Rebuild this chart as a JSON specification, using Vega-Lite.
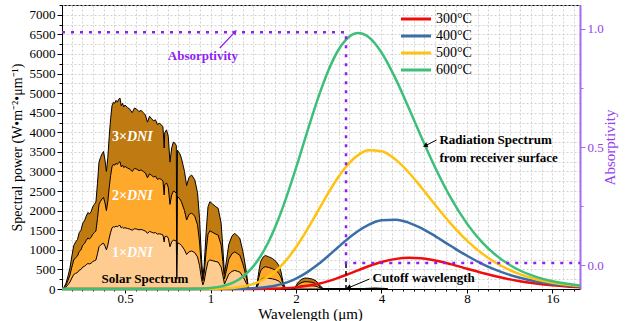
{
  "$schema": "https://vega.github.io/schema/vega-lite/v6.json",
  "width": 518,
  "height": 284,
  "autosize": {"type": "none"},
  "padding": {"left": 62, "top": 5, "right": 51, "bottom": 32},
  "background": "white",
  "config": {
    "view": {"stroke": "black", "strokeWidth": 1},
    "font": "Liberation Serif",
    "axis": {
      "labelFont": "Liberation Serif", "titleFont": "Liberation Serif",
      "labelFontSize": 13, "titleFontSize": 15, "titleFontWeight": "normal",
      "labelColor": "black", "titleColor": "black", "domainColor": "black", "tickColor": "black",
      "labelOverlap": false, "labelBound": false, "labelFlush": false
    }
  },
  "datasets": {
    "solar": [
      {"wl":0.300,"s1":0,"s2":0,"s3":0},
      {"wl":0.305,"s1":15,"s2":30,"s3":45},
      {"wl":0.310,"s1":50,"s2":100,"s3":150},
      {"wl":0.315,"s1":110,"s2":220,"s3":330},
      {"wl":0.320,"s1":180,"s2":360,"s3":540},
      {"wl":0.325,"s1":280,"s2":560,"s3":840},
      {"wl":0.330,"s1":370,"s2":740,"s3":1110},
      {"wl":0.335,"s1":400,"s2":800,"s3":1200},
      {"wl":0.340,"s1":420,"s2":840,"s3":1260},
      {"wl":0.345,"s1":480,"s2":960,"s3":1440},
      {"wl":0.350,"s1":500,"s2":1000,"s3":1500},
      {"wl":0.355,"s1":560,"s2":1120,"s3":1680},
      {"wl":0.360,"s1":580,"s2":1160,"s3":1740},
      {"wl":0.365,"s1":620,"s2":1240,"s3":1860},
      {"wl":0.370,"s1":650,"s2":1300,"s3":1950},
      {"wl":0.375,"s1":640,"s2":1280,"s3":1920},
      {"wl":0.380,"s1":660,"s2":1320,"s3":1980},
      {"wl":0.385,"s1":700,"s2":1400,"s3":2100},
      {"wl":0.390,"s1":720,"s2":1440,"s3":2160},
      {"wl":0.395,"s1":740,"s2":1480,"s3":2220},
      {"wl":0.400,"s1":900,"s2":1800,"s3":2700},
      {"wl":0.405,"s1":1080,"s2":2160,"s3":3240},
      {"wl":0.410,"s1":1120,"s2":2240,"s3":3360},
      {"wl":0.415,"s1":1150,"s2":2300,"s3":3450},
      {"wl":0.420,"s1":1170,"s2":2340,"s3":3510},
      {"wl":0.425,"s1":1100,"s2":2200,"s3":3300},
      {"wl":0.430,"s1":1000,"s2":2000,"s3":3000},
      {"wl":0.435,"s1":1120,"s2":2240,"s3":3360},
      {"wl":0.440,"s1":1300,"s2":2600,"s3":3900},
      {"wl":0.445,"s1":1450,"s2":2900,"s3":4350},
      {"wl":0.450,"s1":1560,"s2":3120,"s3":4680},
      {"wl":0.455,"s1":1590,"s2":3180,"s3":4770},
      {"wl":0.460,"s1":1580,"s2":3160,"s3":4740},
      {"wl":0.465,"s1":1605,"s2":3210,"s3":4815},
      {"wl":0.470,"s1":1590,"s2":3180,"s3":4770},
      {"wl":0.475,"s1":1615,"s2":3230,"s3":4845},
      {"wl":0.480,"s1":1625,"s2":3250,"s3":4875},
      {"wl":0.485,"s1":1560,"s2":3120,"s3":4680},
      {"wl":0.490,"s1":1580,"s2":3160,"s3":4740},
      {"wl":0.495,"s1":1550,"s2":3100,"s3":4650},
      {"wl":0.500,"s1":1565,"s2":3130,"s3":4695},
      {"wl":0.510,"s1":1545,"s2":3090,"s3":4635},
      {"wl":0.520,"s1":1530,"s2":3060,"s3":4590},
      {"wl":0.530,"s1":1500,"s2":3000,"s3":4500},
      {"wl":0.540,"s1":1540,"s2":3080,"s3":4620},
      {"wl":0.550,"s1":1530,"s2":3060,"s3":4590},
      {"wl":0.560,"s1":1510,"s2":3020,"s3":4530},
      {"wl":0.570,"s1":1520,"s2":3040,"s3":4560},
      {"wl":0.580,"s1":1500,"s2":3000,"s3":4500},
      {"wl":0.590,"s1":1480,"s2":2960,"s3":4440},
      {"wl":0.600,"s1":1420,"s2":2840,"s3":4260},
      {"wl":0.610,"s1":1470,"s2":2940,"s3":4410},
      {"wl":0.620,"s1":1450,"s2":2900,"s3":4350},
      {"wl":0.630,"s1":1430,"s2":2860,"s3":4290},
      {"wl":0.640,"s1":1440,"s2":2880,"s3":4320},
      {"wl":0.650,"s1":1400,"s2":2800,"s3":4200},
      {"wl":0.660,"s1":1410,"s2":2820,"s3":4230},
      {"wl":0.670,"s1":1400,"s2":2800,"s3":4200},
      {"wl":0.680,"s1":1380,"s2":2760,"s3":4140},
      {"wl":0.687,"s1":1200,"s2":2400,"s3":3600},
      {"wl":0.690,"s1":1330,"s2":2660,"s3":3990},
      {"wl":0.700,"s1":1354,"s2":2708,"s3":4062},
      {"wl":0.710,"s1":1300,"s2":2600,"s3":3900},
      {"wl":0.720,"s1":1080,"s2":2160,"s3":3240},
      {"wl":0.730,"s1":1200,"s2":2400,"s3":3600},
      {"wl":0.740,"s1":1250,"s2":2500,"s3":3750},
      {"wl":0.750,"s1":1240,"s2":2480,"s3":3720},
      {"wl":0.758,"s1":1220,"s2":2440,"s3":3660},
      {"wl":0.761,"s1":250,"s2":500,"s3":750},
      {"wl":0.765,"s1":1180,"s2":2360,"s3":3540},
      {"wl":0.780,"s1":1150,"s2":2300,"s3":3450},
      {"wl":0.790,"s1":1113,"s2":2226,"s3":3339},
      {"wl":0.810,"s1":1000,"s2":2000,"s3":3000},
      {"wl":0.824,"s1":880,"s2":1760,"s3":2640},
      {"wl":0.840,"s1":950,"s2":1900,"s3":2850},
      {"wl":0.858,"s1":970,"s2":1940,"s3":2910},
      {"wl":0.880,"s1":930,"s2":1860,"s3":2790},
      {"wl":0.900,"s1":820,"s2":1640,"s3":2460},
      {"wl":0.915,"s1":600,"s2":1200,"s3":1800},
      {"wl":0.930,"s1":250,"s2":500,"s3":750},
      {"wl":0.940,"s1":105,"s2":210,"s3":315},
      {"wl":0.950,"s1":200,"s2":400,"s3":600},
      {"wl":0.965,"s1":480,"s2":960,"s3":1440},
      {"wl":0.980,"s1":700,"s2":1400,"s3":2100},
      {"wl":0.995,"s1":743,"s2":1486,"s3":2229},
      {"wl":1.020,"s1":720,"s2":1440,"s3":2160},
      {"wl":1.045,"s1":700,"s2":1400,"s3":2100},
      {"wl":1.064,"s1":687,"s2":1374,"s3":2061},
      {"wl":1.090,"s1":560,"s2":1120,"s3":1680},
      {"wl":1.105,"s1":350,"s2":700,"s3":1050},
      {"wl":1.120,"s1":130,"s2":260,"s3":390},
      {"wl":1.135,"s1":220,"s2":440,"s3":660},
      {"wl":1.160,"s1":380,"s2":760,"s3":1140},
      {"wl":1.190,"s1":450,"s2":900,"s3":1350},
      {"wl":1.218,"s1":474,"s2":948,"s3":1422},
      {"wl":1.245,"s1":450,"s2":900,"s3":1350},
      {"wl":1.268,"s1":432,"s2":864,"s3":1296},
      {"wl":1.300,"s1":320,"s2":640,"s3":960},
      {"wl":1.320,"s1":230,"s2":460,"s3":690},
      {"wl":1.339,"s1":134,"s2":268,"s3":402},
      {"wl":1.360,"s1":10,"s2":20,"s3":30},
      {"wl":1.380,"s1":0,"s2":0,"s3":0},
      {"wl":1.440,"s1":0,"s2":0,"s3":0},
      {"wl":1.460,"s1":50,"s2":100,"s3":150},
      {"wl":1.480,"s1":150,"s2":300,"s3":450},
      {"wl":1.500,"s1":230,"s2":460,"s3":690},
      {"wl":1.530,"s1":270,"s2":540,"s3":810},
      {"wl":1.560,"s1":285,"s2":570,"s3":855},
      {"wl":1.600,"s1":275,"s2":550,"s3":825},
      {"wl":1.650,"s1":260,"s2":520,"s3":780},
      {"wl":1.700,"s1":235,"s2":470,"s3":705},
      {"wl":1.740,"s1":200,"s2":400,"s3":600},
      {"wl":1.770,"s1":150,"s2":300,"s3":450},
      {"wl":1.800,"s1":60,"s2":120,"s3":180},
      {"wl":1.830,"s1":10,"s2":20,"s3":30},
      {"wl":1.850,"s1":0,"s2":0,"s3":0},
      {"wl":1.960,"s1":0,"s2":0,"s3":0},
      {"wl":1.990,"s1":20,"s2":40,"s3":60},
      {"wl":2.040,"s1":60,"s2":120,"s3":180},
      {"wl":2.100,"s1":85,"s2":170,"s3":255},
      {"wl":2.150,"s1":93,"s2":186,"s3":279},
      {"wl":2.200,"s1":92,"s2":184,"s3":276},
      {"wl":2.280,"s1":85,"s2":170,"s3":255},
      {"wl":2.350,"s1":70,"s2":140,"s3":210},
      {"wl":2.400,"s1":45,"s2":90,"s3":135},
      {"wl":2.450,"s1":20,"s2":40,"s3":60},
      {"wl":2.500,"s1":0,"s2":0,"s3":0},
      {"wl":3.400,"s1":0,"s2":0,"s3":0},
      {"wl":3.500,"s1":5,"s2":10,"s3":15},
      {"wl":3.800,"s1":8,"s2":16,"s3":24},
      {"wl":4.100,"s1":5,"s2":10,"s3":15},
      {"wl":4.200,"s1":0,"s2":0,"s3":0}
    ],
    "bb": [
      {"T":"300°C","wl":0.3,"v":0},{"T":"300°C","wl":1.0,"v":0},{"T":"300°C","wl":1.4,"v":1.1},{"T":"300°C","wl":1.6,"v":5.5},{"T":"300°C","wl":1.8,"v":17.4},{"T":"300°C","wl":2.0,"v":41.4},{"T":"300°C","wl":2.2,"v":80.5},{"T":"300°C","wl":2.4,"v":134.8},{"T":"300°C","wl":2.6,"v":201.9},{"T":"300°C","wl":2.8,"v":277.8},{"T":"300°C","wl":3.0,"v":357.7},{"T":"300°C","wl":3.3,"v":475.4},{"T":"300°C","wl":3.6,"v":580.3},{"T":"300°C","wl":4.0,"v":688.7},{"T":"300°C","wl":4.5,"v":769.1},{"T":"300°C","wl":5.0,"v":795.6},{"T":"300°C","wl":5.5,"v":782.8},{"T":"300°C","wl":6.0,"v":744.7},{"T":"300°C","wl":7.0,"v":634.4},{"T":"300°C","wl":8.0,"v":517.7},{"T":"300°C","wl":9.0,"v":415.0},{"T":"300°C","wl":10,"v":330.9},{"T":"300°C","wl":12,"v":211.8},{"T":"300°C","wl":14,"v":138.9},{"T":"300°C","wl":16,"v":93.9},{"T":"300°C","wl":18,"v":65.3},{"T":"300°C","wl":20,"v":46.6},
      {"T":"400°C","wl":0.3,"v":0},{"T":"400°C","wl":1.0,"v":0.2},{"T":"400°C","wl":1.2,"v":2.8},{"T":"400°C","wl":1.3,"v":7.3},{"T":"400°C","wl":1.4,"v":16.3},{"T":"400°C","wl":1.5,"v":31.9},{"T":"400°C","wl":1.6,"v":56.3},{"T":"400°C","wl":1.7,"v":91.3},{"T":"400°C","wl":1.8,"v":138.0},{"T":"400°C","wl":1.9,"v":196.8},{"T":"400°C","wl":2.0,"v":267.1},{"T":"400°C","wl":2.2,"v":438.1},{"T":"400°C","wl":2.4,"v":637.2},{"T":"400°C","wl":2.6,"v":847.4},{"T":"400°C","wl":2.8,"v":1052.7},{"T":"400°C","wl":3.0,"v":1240.6},{"T":"400°C","wl":3.3,"v":1473.1},{"T":"400°C","wl":3.6,"v":1637.7},{"T":"400°C","wl":4.0,"v":1754.7},{"T":"400°C","wl":4.5,"v":1769.9},{"T":"400°C","wl":5.0,"v":1689.6},{"T":"400°C","wl":5.5,"v":1557.8},{"T":"400°C","wl":6.0,"v":1405.2},{"T":"400°C","wl":7.0,"v":1102.8},{"T":"400°C","wl":8.0,"v":848.0},{"T":"400°C","wl":9.0,"v":649.9},{"T":"400°C","wl":10,"v":500.4},{"T":"400°C","wl":12,"v":304.6},{"T":"400°C","wl":14,"v":193.1},{"T":"400°C","wl":16,"v":127.3},{"T":"400°C","wl":18,"v":86.9},{"T":"400°C","wl":20,"v":61.2},
      {"T":"500°C","wl":0.3,"v":0},{"T":"500°C","wl":0.8,"v":0.1},{"T":"500°C","wl":1.0,"v":3.1},{"T":"500°C","wl":1.1,"v":10.4},{"T":"500°C","wl":1.2,"v":27.7},{"T":"500°C","wl":1.3,"v":61.2},{"T":"500°C","wl":1.4,"v":117.3},{"T":"500°C","wl":1.5,"v":201.5},{"T":"500°C","wl":1.6,"v":317.1},{"T":"500°C","wl":1.7,"v":464.1},{"T":"500°C","wl":1.8,"v":640.6},{"T":"500°C","wl":2.0,"v":1063.8},{"T":"500°C","wl":2.2,"v":1539.4},{"T":"500°C","wl":2.4,"v":2016.9},{"T":"500°C","wl":2.6,"v":2454.1},{"T":"500°C","wl":2.8,"v":2828.6},{"T":"500°C","wl":3.0,"v":3121.1},{"T":"500°C","wl":3.3,"v":3411.3},{"T":"500°C","wl":3.6,"v":3540.0},{"T":"500°C","wl":4.0,"v":3518.6},{"T":"500°C","wl":4.5,"v":3295.7},{"T":"500°C","wl":5.0,"v":2967.8},{"T":"500°C","wl":5.5,"v":2610.8},{"T":"500°C","wl":6.0,"v":2265.9},{"T":"500°C","wl":7.0,"v":1677.0},{"T":"500°C","wl":8.0,"v":1235.8},{"T":"500°C","wl":9.0,"v":917.3},{"T":"500°C","wl":10,"v":689.1},{"T":"500°C","wl":12,"v":404.8},{"T":"500°C","wl":14,"v":250.4},{"T":"500°C","wl":16,"v":162.2},{"T":"500°C","wl":18,"v":109.3},{"T":"500°C","wl":20,"v":76.1},
      {"T":"600°C","wl":0.3,"v":0},{"T":"600°C","wl":0.8,"v":1.3},{"T":"600°C","wl":0.9,"v":7.1},{"T":"600°C","wl":1.0,"v":26.1},{"T":"600°C","wl":1.1,"v":72.5},{"T":"600°C","wl":1.2,"v":163.5},{"T":"600°C","wl":1.3,"v":315.3},{"T":"600°C","wl":1.4,"v":538.0},{"T":"600°C","wl":1.5,"v":835.4},{"T":"600°C","wl":1.6,"v":1201.4},{"T":"600°C","wl":1.7,"v":1626.5},{"T":"600°C","wl":1.8,"v":2095.2},{"T":"600°C","wl":2.0,"v":3089.5},{"T":"600°C","wl":2.2,"v":4058.4},{"T":"600°C","wl":2.4,"v":4904.7},{"T":"600°C","wl":2.6,"v":5577.6},{"T":"600°C","wl":2.8,"v":6063.0},{"T":"600°C","wl":3.0,"v":6363.5},{"T":"600°C","wl":3.3,"v":6532.2},{"T":"600°C","wl":3.6,"v":6431.3},{"T":"600°C","wl":4.0,"v":6037.1},{"T":"600°C","wl":4.5,"v":5345.7},{"T":"600°C","wl":5.0,"v":4606.5},{"T":"600°C","wl":5.5,"v":3912.0},{"T":"600°C","wl":6.0,"v":3299.0},{"T":"600°C","wl":7.0,"v":2336.6},{"T":"600°C","wl":8.0,"v":1668.5},{"T":"600°C","wl":9.0,"v":1209.4},{"T":"600°C","wl":10,"v":891.8},{"T":"600°C","wl":12,"v":510.1},{"T":"600°C","wl":14,"v":310.0},{"T":"600°C","wl":16,"v":198.2},{"T":"600°C","wl":18,"v":132.2},{"T":"600°C","wl":20,"v":91.4}
    ],
    "absorb": [
      {"i":1,"wl":0.3,"a":0.985},
      {"i":2,"wl":3.0,"a":0.985},
      {"i":3,"wl":3.0,"a":0.01},
      {"i":4,"wl":20,"a":0.01}
    ],
    "mult": [
      {"wl":0.508,"v":3888,"t":"3×"},
      {"wl":0.508,"v":2374,"t":"2×"},
      {"wl":0.508,"v":927,"t":"1×"}
    ],
    "dni": [
      {"wl":0.508,"v":3888,"t":"DNI"},
      {"wl":0.508,"v":2374,"t":"DNI"},
      {"wl":0.508,"v":927,"t":"DNI"}
    ],
    "notesLeft": [
      {"wl":6.40,"v":3804,"t":"Radiation Spectrum"},
      {"wl":6.40,"v":3344,"t":"from receiver surface"},
      {"wl":3.72,"v":273,"t":"Cutoff wavelength"}
    ],
    "notesCenter": [
      {"wl":0.588,"v":248,"t":"Solar Spectrum"}
    ],
    "notePurple": [
      {"wl":0.94,"v":5956,"t":"Absorptivity"}
    ],
    "arrowsBlack": [
      {"wl":6.25,"v":3804,"wl2":5.72,"v2":3660},
      {"wl":3.63,"v":255,"wl2":3.07,"v2":35}
    ],
    "arrowPurple": [
      {"wl":1.078,"v":6152,"wl2":1.215,"v2":6550}
    ],
    "headRad": [{"wl":5.70,"v":3655}],
    "headCut": [{"wl":3.06,"v":32}],
    "headAbs": [{"wl":1.22,"v":6565}],
    "cutoff": [{"wl":3.0,"v":0,"v2":660}]
  },
  "encoding": {
    "x": {
      "field": "wl", "type": "quantitative",
      "scale": {"type": "log", "domain": [0.3, 20]},
      "title": "Wavelength (μm)",
      "axis": {
        "values": [0.32421,0.35355,0.38555,0.42045,0.4585,0.5,0.54525,0.5946,0.64842,0.70711,0.77111,0.8409,0.917,1,1.09051,1.18921,1.29684,1.41421,1.54221,1.68179,1.83401,2,2.18102,2.37841,2.59368,2.82843,3.08442,3.36359,3.66802,4,4.36203,4.75683,5.18736,5.65685,6.16884,6.72717,7.33603,8,8.72406,9.51366,10.37472,11.31371,12.33768,13.45434,14.67206,16,17.44812,19.02731],
        "labelExpr": "indexof([0.5,1,2,4,8,16], datum.value) >= 0 ? '' + datum.value : ''",
        "grid": true, "gridColor": "#c8c8c8", "gridDash": [2, 2], "gridWidth": 0.8,
        "tickSize": {"condition": {"test": "indexof([0.5,1,2,4,8,16], datum.value) >= 0", "value": 4}, "value": 2},
        "labelPadding": -1,
        "titleX": 248, "titleY": 29, "titleBaseline": "alphabetic", "titleAlign": "center"
      }
    }
  },
  "layer": [
    {
      "encoding": {
        "y": {
          "field": "v", "type": "quantitative",
          "scale": {"domain": [0, 7250]},
          "title": "Spectral power (W•m⁻²•μm⁻¹)",
          "axis": {
            "values": [0,250,500,750,1000,1250,1500,1750,2000,2250,2500,2750,3000,3250,3500,3750,4000,4250,4500,4750,5000,5250,5500,5750,6000,6250,6500,6750,7000,7250],
            "labelExpr": "datum.value % 500 === 0 ? '' + datum.value : ''",
            "grid": true, "gridColor": "#c8c8c8", "gridDash": [2, 2], "gridWidth": 0.8,
            "tickSize": {"condition": {"test": "datum.value % 500 === 0", "value": 5}, "value": 3},
            "labelPadding": 2, "titlePadding": 5, "titleFontSize": 14
          }
        }
      },
      "layer": [
        {
          "data": {"name": "solar"},
          "transform": [{"fold": ["s3"], "as": ["k", "v"]}],
          "mark": {"type": "area", "color": "#bf7a12", "stroke": "black", "strokeWidth": 1, "strokeJoin": "round"}
        },
        {
          "data": {"name": "solar"},
          "transform": [{"fold": ["s2"], "as": ["k", "v"]}],
          "mark": {"type": "area", "color": "#fea82c", "stroke": "black", "strokeWidth": 1, "strokeJoin": "round"}
        },
        {
          "data": {"name": "solar"},
          "transform": [{"fold": ["s1"], "as": ["k", "v"]}],
          "mark": {"type": "area", "color": "#fecb90", "stroke": "black", "strokeWidth": 1, "strokeJoin": "round"}
        },
        {
          "data": {"name": "bb"},
          "mark": {"type": "line", "interpolate": "monotone", "strokeWidth": 2.5},
          "encoding": {
            "color": {
              "field": "T", "type": "nominal",
              "scale": {"domain": ["300°C", "400°C", "500°C", "600°C"], "range": ["#f00c0c", "#3b6ea6", "#ffc20e", "#3dbf7a"]},
              "legend": {
                "orient": "none", "legendX": 347, "legendY": 7, "title": null,
                "symbolType": "M-3,0H3", "symbolSize": 100, "symbolStrokeWidth": 3,
                "labelFont": "Liberation Serif", "labelFontSize": 14, "labelColor": "black",
                "rowPadding": 3, "labelOffset": 13, "padding": 0
              }
            }
          }
        },
        {
          "data": {"name": "cutoff"},
          "mark": {"type": "rule", "color": "black", "strokeWidth": 1.5, "strokeDash": [4, 3]},
          "encoding": {"y2": {"field": "v2"}}
        },
        {
          "data": {"name": "arrowsBlack"},
          "mark": {"type": "rule", "color": "black", "strokeWidth": 1},
          "encoding": {"x2": {"field": "wl2"}, "y2": {"field": "v2"}}
        },
        {
          "data": {"name": "arrowPurple"},
          "mark": {"type": "rule", "color": "#8f1ef0", "strokeWidth": 1.2},
          "encoding": {"x2": {"field": "wl2"}, "y2": {"field": "v2"}}
        },
        {
          "data": {"name": "headRad"},
          "mark": {"type": "point", "shape": "triangle-up", "filled": true, "color": "black", "size": 30, "angle": 245, "opacity": 1}
        },
        {
          "data": {"name": "headCut"},
          "mark": {"type": "point", "shape": "triangle-up", "filled": true, "color": "black", "size": 30, "angle": 250, "opacity": 1}
        },
        {
          "data": {"name": "headAbs"},
          "mark": {"type": "point", "shape": "triangle-up", "filled": true, "color": "#8f1ef0", "size": 30, "angle": 43, "opacity": 1}
        },
        {
          "data": {"name": "mult"},
          "mark": {"type": "text", "color": "white", "font": "Liberation Serif", "fontSize": 14, "fontWeight": "bold", "align": "right", "baseline": "middle"},
          "encoding": {"text": {"field": "t"}}
        },
        {
          "data": {"name": "dni"},
          "mark": {"type": "text", "color": "white", "font": "Liberation Serif", "fontSize": 14, "fontWeight": "bold", "fontStyle": "italic", "align": "left", "baseline": "middle"},
          "encoding": {"text": {"field": "t"}}
        },
        {
          "data": {"name": "notesLeft"},
          "mark": {"type": "text", "color": "black", "font": "Liberation Serif", "fontSize": 13, "fontWeight": "bold", "align": "left", "baseline": "middle"},
          "encoding": {"text": {"field": "t"}}
        },
        {
          "data": {"name": "notesCenter"},
          "mark": {"type": "text", "color": "black", "font": "Liberation Serif", "fontSize": 13, "fontWeight": "bold", "align": "center", "baseline": "middle"},
          "encoding": {"text": {"field": "t"}}
        },
        {
          "data": {"name": "notePurple"},
          "mark": {"type": "text", "color": "#8f1ef0", "font": "Liberation Serif", "fontSize": 13, "fontWeight": "bold", "align": "center", "baseline": "middle"},
          "encoding": {"text": {"field": "t"}}
        }
      ]
    },
    {
      "data": {"name": "absorb"},
      "mark": {"type": "line", "color": "#8f1ef0", "strokeWidth": 2.5, "strokeDash": [3, 6]},
      "encoding": {
        "order": {"field": "i", "type": "quantitative"},
        "y": {
          "field": "a", "type": "quantitative",
          "scale": {"domain": [-0.1, 1.1]},
          "title": "Absorptivity",
          "axis": {
            "orient": "right",
            "values": [0, 0.25, 0.5, 0.75, 1],
            "labelExpr": "(datum.value === 0 || datum.value === 0.5 || datum.value === 1) ? format(datum.value, '.1f') : ''",
            "grid": false,
            "domainColor": "#a46cf0", "domainWidth": 2,
            "tickColor": "#a46cf0",
            "tickSize": {"condition": {"test": "datum.value === 0 || datum.value === 0.5 || datum.value === 1", "value": 5}, "value": 3},
            "labelColor": "#9440f0", "titleColor": "#9440f0",
            "titleAngle": 270, "labelPadding": 2, "titlePadding": 14
          }
        }
      }
    }
  ],
  "resolve": {"scale": {"y": "independent"}}
}
